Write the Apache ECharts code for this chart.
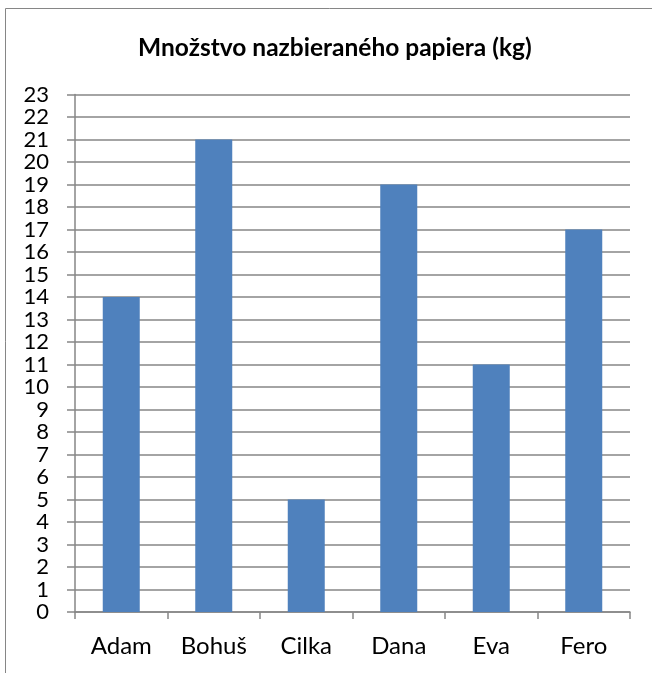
<!DOCTYPE html>
<html>
<head>
<meta charset="utf-8">
<script src="https://cdn.jsdelivr.net/npm/echarts@6/dist/echarts.min.js"></script>
<style>
html,body{margin:0;padding:0;background:#fff;}
#c{width:652px;height:673px;}
</style>
</head>
<body>
<div id="c"></div>
<script>
const titleText = 'Množstvo nazbieraného papiera (kg)';
const categories = ['Adam', 'Bohuš', 'Cilka', 'Dana', 'Eva', 'Fero'];
const values = [14, 21, 5, 19, 11, 17];
const yMin = 0, yMax = 23, yStep = 1;

const FONT = 'Lato';
const GRAY = '#868686';
const chart = echarts.init(document.getElementById('c'), null, {renderer: 'canvas'});
chart.setOption({
  animation: false,
  backgroundColor: '#fff',
  title: {
    text: titleText,
    left: 133,
    top: 31,
    textStyle: {fontFamily: FONT, fontWeight: 'bold', fontSize: 24.5, color: '#000'}
  },
  graphic: [{
    type: 'rect',
    shape: {x: 5.5, y: 8.5, width: 700, height: 700},
    style: {fill: 'none', stroke: GRAY, lineWidth: 1},
    silent: true,
    z: -1
  }],
  grid: {left: 75, right: 22, top: 94.5, bottom: 61, containLabel: false},
  xAxis: {
    type: 'category',
    data: categories,
    axisLine: {lineStyle: {color: GRAY, width: 1.5}},
    axisTick: {show: true, length: 7, alignWithLabel: false, lineStyle: {color: GRAY, width: 1.5}},
    axisLabel: {fontFamily: FONT, fontSize: 24, color: '#000', margin: 22},
    splitLine: {show: false}
  },
  yAxis: {
    type: 'value',
    min: yMin, max: yMax, interval: yStep,
    axisLine: {show: true, lineStyle: {color: GRAY, width: 1.5}},
    axisTick: {show: true, length: 8, lineStyle: {color: GRAY, width: 1.5}},
    axisLabel: {fontFamily: FONT, fontSize: 22, color: '#000', margin: 26},
    splitLine: {show: true, lineStyle: {color: GRAY, width: 1.5}}
  },
  series: [{
    type: 'bar',
    data: values,
    barWidth: '40%',
    itemStyle: {color: '#4F81BD'}
  }]
});
</script>
</body>
</html>
